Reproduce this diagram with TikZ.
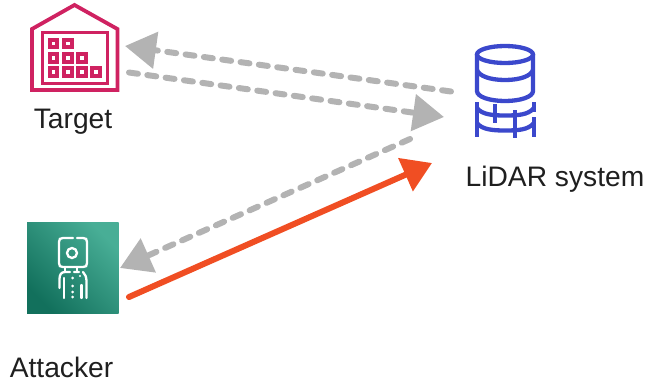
\documentclass[tikz,border=0pt]{standalone}
\usepackage{fontspec}
\setmainfont{Liberation Sans}
\usetikzlibrary{arrows.meta}
\definecolor{tpink}{HTML}{CF2261}
\definecolor{dblue}{HTML}{3B48CC}
\definecolor{ggrey}{HTML}{B3B3B3}
\definecolor{rorange}{HTML}{F04E23}
\definecolor{gdark}{HTML}{12705C}
\definecolor{glight}{HTML}{48AE96}
\tikzset{
 lab/.style={font=\fontsize{28.2}{30}\selectfont,text=black!88,inner sep=0pt},
 greyarrow/.style={draw=ggrey,line width=6pt,line cap=round,dash pattern=on 9pt off 9.5pt,-{Triangle[length=31pt,width=36pt,fill=ggrey,line cap=butt]}},
 redarrow/.style={draw=rorange,line width=6pt,line cap=round,-{Triangle[length=29pt,width=35pt,fill=rorange,line cap=butt]}},
 pinkline/.style={draw=tpink,line width=3.8pt},
 pinkinner/.style={draw=tpink,line width=3.2pt},
 pinkbox/.style={draw=tpink,line width=3.8pt},
 whiteline/.style={draw=white,line width=2.3pt,line cap=round},
 blueline/.style={draw=dblue,line width=4.3pt,line cap=butt}
}
\begin{document}
\begin{tikzpicture}[x=1pt,y=-1pt]
\useasboundingbox (0,0) rectangle (645,389);
\node[lab] (target) at (73,122) {Target};
\node[lab] (lidar) at (555,179) {LiDAR system};
\node[lab] (attacker) at (61.5,367) {Attacker};
% target icon
\draw[pinkline,miter limit=10] (32,90) -- (32,29) -- (74.5,5) -- (117.4,29) -- (117.4,90) -- cycle;
\draw[pinkinner] (42.3,32.6) rectangle (107.4,83.4);
\foreach \cx/\cy in {53.5/43.5,68/43.5,53.5/58,68/58,82/58,53.5/72,68/72,82/72,96/72}{
 \draw[pinkbox] (\cx-3.8,\cy-3.8) rectangle (\cx+3.8,\cy+3.8);
}
% attacker icon
\shade[top color=glight,bottom color=gdark,shading angle=-45] (27,222.5) rectangle (118.5,313.5);
\draw[whiteline] (77,238) -- (83,238) .. controls (86,238) and (87,239) .. (87,242) -- (87,263) .. controls (87,266) and (86,267) .. (83,267) -- (63,267) .. controls (60,267) and (59,266) .. (59,263) -- (59,242) .. controls (59,239) and (60,238) .. (63,238) -- (73,238);
\draw[white,line width=2.3pt] (72,253) circle (5);
\draw[whiteline] (65,267) -- (65,272) (77,267) -- (77,272);
\draw[whiteline] (59.5,288) -- (59.5,279) .. controls (59.5,275) and (61,272) .. (65,272) -- (70,272);
\draw[whiteline] (74,272) -- (79,272) (83,272) .. controls (85,274) and (86.5,277) .. (86.5,281) -- (86.5,298);
\draw[whiteline] (64,278) -- (64,298) (81.5,285) -- (81.5,298);
\foreach \cy in {278,286,292,297}{\fill[white] (72.7,\cy) circle (1.5);}
\fill[white] (80,276) circle (1.2);
% database icon
\draw[blueline] (505,54.5) ellipse (28 and 8.5);
\draw[blueline] (477,54.5) -- (477,91) .. controls (477,97) and (490,101) .. (505,101) .. controls (520,101) and (533,97) .. (533,91) -- (533,54.5);
\draw[blueline] (477,70) .. controls (479,76) and (490,80) .. (505,80) .. controls (520,80) and (531,76) .. (533,70);
\draw[blueline] (477,102) -- (477,136.5);
\draw[blueline] (534,102) -- (534,112) (534,117) -- (534,136.5);
\draw[blueline] (477,108) .. controls (482,115) and (495,115.5) .. (505,115.5) .. controls (518,115.5) and (528,115) .. (534,108);
\draw[blueline] (477,123) .. controls (482,130) and (495,130.5) .. (505,130.5) .. controls (518,130.5) and (528,130) .. (534,123);
\draw[blueline] (495,104) -- (495,123) (515,110) -- (515,137.5);
% connectors
\coordinate (a1) at (451,91.5);
\coordinate (b1) at (125,46);
\coordinate (a2) at (129,72.5);
\coordinate (b2) at (444,117);
\coordinate (a3) at (410,139);
\coordinate (b3) at (120,268);
\coordinate (a4) at (129,297);
\coordinate (b4) at (432,163);
\draw[greyarrow] (a1) -- (b1);
\draw[greyarrow] (a2) -- (b2);
\draw[greyarrow] (a3) -- (b3);
\draw[redarrow] (a4) -- (b4);
\end{tikzpicture}
\end{document}
